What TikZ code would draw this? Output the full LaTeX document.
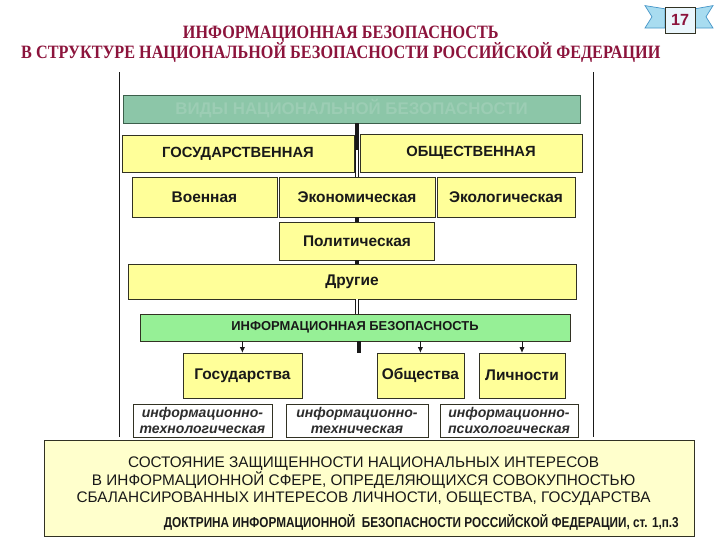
\documentclass[tikz,border=0pt]{standalone}
\usepackage{fontspec}
\setmainfont{Liberation Sans}
\newfontfamily\titlefont[FakeStretch=0.86]{Liberation Serif}
\newfontfamily\narrowfont[FakeStretch=0.82]{Liberation Sans}
\usetikzlibrary{arrows.meta, calc}

\definecolor{titlered}{RGB}{140,20,60}
\definecolor{boxyellow}{RGB}{255,255,153}
\definecolor{paleyellow}{RGB}{255,255,204}
\definecolor{tealfill}{RGB}{140,198,168}
\definecolor{tealedge}{RGB}{60,95,75}
\definecolor{tealtext}{RGB}{156,205,180}
\definecolor{infogreen}{RGB}{150,240,150}
\definecolor{edgedark}{RGB}{50,50,35}
\definecolor{textdark}{RGB}{25,25,25}
\definecolor{textgray}{RGB}{45,45,45}
\definecolor{ribbon}{RGB}{168,220,240}
\definecolor{ribbonedge}{RGB}{70,150,200}
\definecolor{badgefill}{RGB}{234,246,252}

\begin{document}
\begin{tikzpicture}[
    >={Latex[length=1.4mm, width=1.3mm]},
    every node/.style={text=textdark, font=\bfseries\fontsize{11}{13}\selectfont},
    headline/.style={align=center, text=titlered,
                     font=\titlefont\bfseries\fontsize{13.4}{14.4}\selectfont},
    header/.style={rectangle, draw=tealedge, fill=tealfill, text=tealtext,
                   minimum width=11.43cm, minimum height=0.7cm, inner sep=0pt,
                   font=\bfseries\fontsize{12}{14}\selectfont},
    kind/.style={rectangle, draw=edgedark, fill=boxyellow, inner sep=0pt},
    bigkind/.style={kind, font=\bfseries\fontsize{10.5}{12}\selectfont},
    infosec/.style={rectangle, draw=edgedark, fill=infogreen, inner sep=0pt,
                    minimum width=10.75cm, minimum height=0.675cm,
                    font=\bfseries\fontsize{9.2}{11}\selectfont},
    subject/.style={kind, minimum height=1.125cm},
    aspect/.style={rectangle, draw=edgedark, fill=white, align=center, inner sep=0pt,
                   minimum height=0.825cm, text=textgray,
                   font=\bfseries\itshape\fontsize{10}{11}\selectfont},
    bar/.style={draw=textdark, line width=2.8pt},
    dbl/.style={draw=textdark, double=white, line width=0.6pt, double distance=1.4pt},
    feed/.style={->, draw=textdark, line width=0.6pt},
    frame/.style={draw=textdark, line width=0.6pt}
]
    \useasboundingbox (0,0) rectangle (18,-13.5);

    % --- Заголовок ---
    \node[headline] (title) at (8.52,-1.1)
        {ИНФОРМАЦИОННАЯ БЕЗОПАСНОСТЬ\\В СТРУКТУРЕ НАЦИОНАЛЬНОЙ БЕЗОПАСНОСТИ РОССИЙСКОЙ ФЕДЕРАЦИИ};

    % --- Номер слайда (лента) ---
    \fill[ribbon, draw=ribbonedge, line width=0.5pt]
        (16.125,-0.14) -- (16.625,-0.22) -- (16.625,-0.7) -- (16.125,-0.7) -- (16.3,-0.42) -- cycle;
    \fill[ribbon, draw=ribbonedge, line width=0.5pt]
        (17.375,-0.22) -- (17.825,-0.14) -- (17.65,-0.42) -- (17.825,-0.7) -- (17.375,-0.7) -- cycle;
    \node[rectangle, draw=edgedark, fill=badgefill, minimum width=0.75cm, minimum height=0.65cm,
          inner sep=0pt, text=titlered, font=\bfseries\fontsize{11.5}{13}\selectfont]
        (badge) at (17.0,-0.5) {17};

    % --- Рамка ---
    \coordinate (frameLT) at (2.975,-1.8);
    \coordinate (frameLB) at (2.975,-10.925);
    \coordinate (frameRT) at (14.825,-1.8);
    \coordinate (frameRB) at (14.825,-10.925);
    \draw[frame] (frameLT) -- (frameLB);
    \draw[frame] (frameRT) -- (frameRB);

    % --- Виды национальной безопасности ---
    \node[header] (header) at (8.79,-2.725) {ВИДЫ НАЦИОНАЛЬНОЙ БЕЗОПАСНОСТИ};

    \node[bigkind, minimum width=5.8cm,  minimum height=0.925cm] (gos)  at (5.95,-3.84)  {ГОСУДАРСТВЕННАЯ};
    \node[bigkind, minimum width=5.55cm, minimum height=0.95cm]  (obsh) at (11.775,-3.825) {ОБЩЕСТВЕННАЯ};

    \node[kind, minimum width=3.625cm, minimum height=1.0cm] (voen) at (5.11,-4.925)  {Военная};
    \node[kind, minimum width=3.9cm,   minimum height=1.0cm] (ekon) at (8.925,-4.925) {Экономическая};
    \node[kind, minimum width=3.45cm,  minimum height=1.0cm] (ekol) at (12.65,-4.925) {Экологическая};

    \node[kind, minimum width=3.875cm, minimum height=0.95cm]  (polit)  at (8.925,-6.025) {Политическая};
    \node[kind, minimum width=11.2cm,  minimum height=0.875cm] (drugie) at (8.8,-7.04)    {Другие};

    \node[infosec] (infob) at (8.875,-8.19) {ИНФОРМАЦИОННАЯ БЕЗОПАСНОСТЬ};

    % --- Объекты защиты ---
    \node[subject, minimum width=2.975cm] (gosud)  at (6.06,-9.39)  {Государства};
    \node[subject, minimum width=2.175cm] (obshch) at (10.51,-9.39) {Общества};
    \node[subject, minimum width=2.15cm]  (lichn)  at (13.05,-9.39) {Личности};

    \node[aspect, minimum width=3.475cm] (tech)  at (5.06,-10.51)  {информационно-\\технологическая};
    \node[aspect, minimum width=3.55cm]  (techn) at (8.925,-10.51) {информационно-\\техническая};
    \node[aspect, minimum width=3.45cm]  (psych) at (12.725,-10.51) {информационно-\\психологическая};

    % --- Определение ---
    \node[rectangle, draw=edgedark, fill=paleyellow, minimum width=16.25cm, minimum height=2.4cm,
          inner sep=0pt] (defbox) at (9.225,-12.2) {};
    \node[align=center, font=\mdseries\fontsize{10.9}{12}\selectfont] (deftext) at (9.09,-12.02)
        {СОСТОЯНИЕ ЗАЩИЩЕННОСТИ НАЦИОНАЛЬНЫХ ИНТЕРЕСОВ\\
         В ИНФОРМАЦИОННОЙ СФЕРЕ, ОПРЕДЕЛЯЮЩИХСЯ СОВОКУПНОСТЬЮ\\
         СБАЛАНСИРОВАННЫХ ИНТЕРЕСОВ ЛИЧНОСТИ, ОБЩЕСТВА, ГОСУДАРСТВА};
    \node[anchor=east, inner sep=0pt, font=\narrowfont\bfseries\fontsize{10.2}{11}\selectfont]
        (source) at (16.975,-13.05)
        {ДОКТРИНА ИНФОРМАЦИОННОЙ\ \ БЕЗОПАСНОСТИ РОССИЙСКОЙ ФЕДЕРАЦИИ, ст. 1,п.3};

    % --- Связи ---
    \coordinate (axis)  at (8.925,0);
    \coordinate (split) at (8.925,-3.75);
    \coordinate (stub)  at (8.975,-8.825);
    \draw[bar] (header.south -| axis) -- (split);
    \draw[dbl] (split) -- (ekon.north);
    \draw[bar] (ekon.south) -- (polit.north);
    \draw[bar] (polit.south) -- (drugie.north -| axis);
    \draw[dbl] (drugie.south -| axis) -- (infob.north -| axis);
    \draw[bar] (infob.south -| stub) -- (stub);

    \draw[feed] (infob.south -| gosud)  -- (gosud.north);
    \draw[feed] (infob.south -| obshch) -- (obshch.north);
    \draw[feed] (infob.south -| lichn)  -- (lichn.north);

\end{tikzpicture}
\end{document}
